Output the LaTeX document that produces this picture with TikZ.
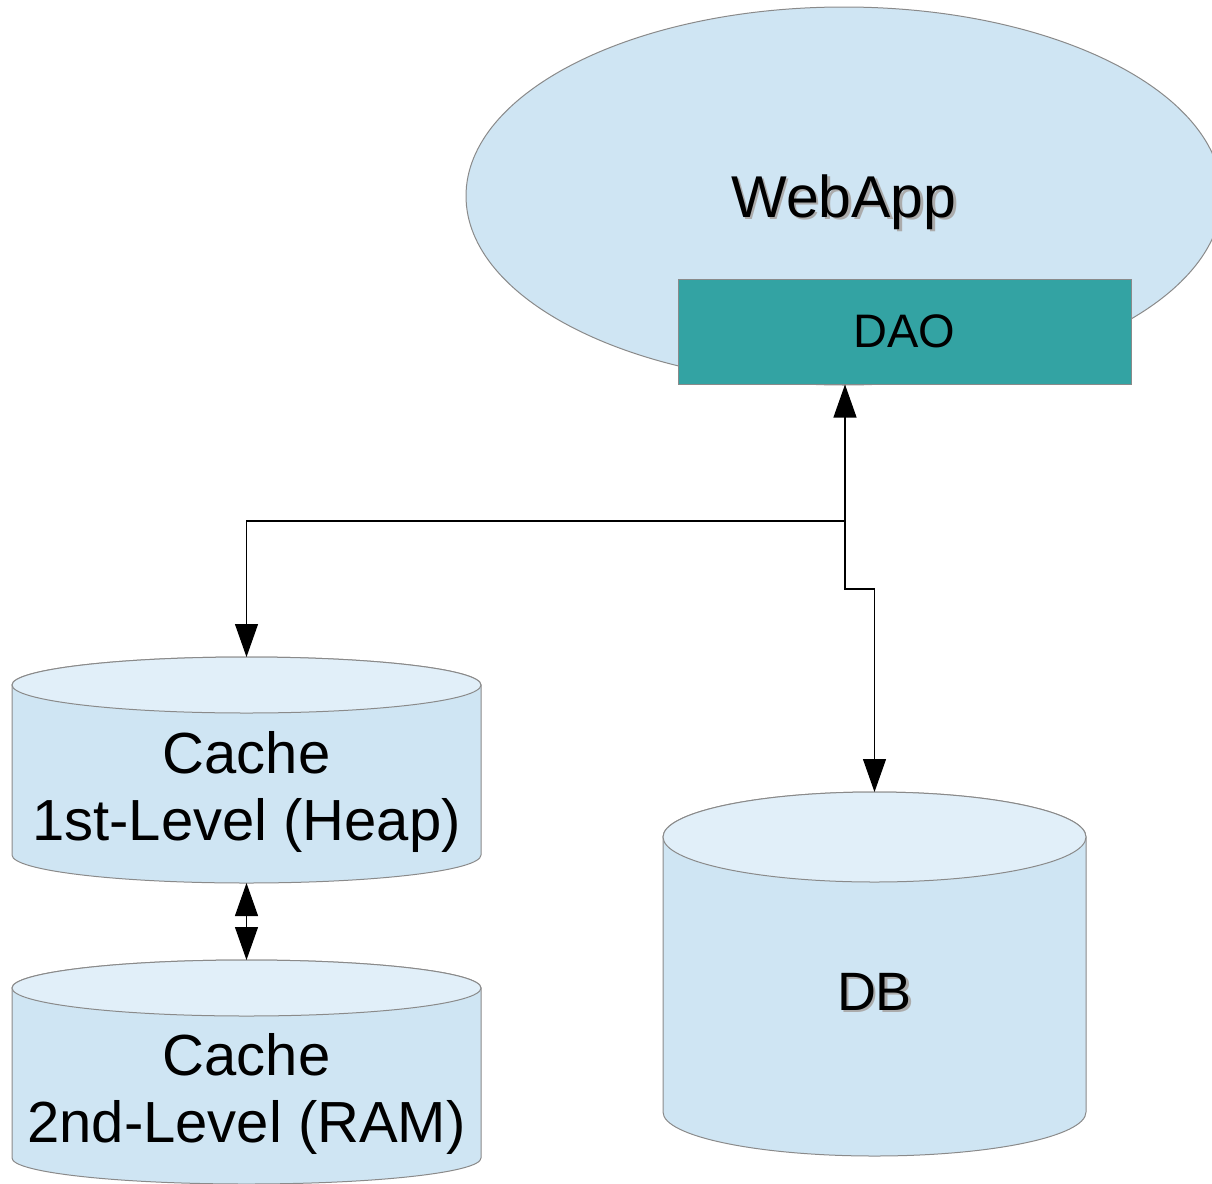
\documentclass[tikz,border=0pt]{standalone}
\usepackage{fontspec}
\setmainfont{Liberation Sans}
\usetikzlibrary{arrows.meta,shapes.geometric}
\definecolor{fillblue}{HTML}{CFE5F3}
\definecolor{topblue}{HTML}{E1EFF9}
\definecolor{edgegray}{HTML}{8A8A8A}
\definecolor{daoteal}{HTML}{33A3A3}
\definecolor{shadowgray}{HTML}{ABABAB}
\begin{document}
\begin{tikzpicture}[x=1pt,y=1pt,
  conn/.style={draw=black, line width=1.1pt},
  bigtip/.tip={Triangle[length=33pt,width=23pt]},
  cylbody/.style={fill=fillblue, draw=edgegray, line width=1pt},
  cyltop/.style={fill=topblue, draw=edgegray, line width=1pt},
  area/.style={inner sep=0pt, outer sep=0pt, draw=none},
  bigtext/.style={font=\fontsize{58}{67}\selectfont, align=center, inner sep=0pt},
  shadowtext/.style={text=shadowgray, inner sep=0pt, anchor=base},
  maintext/.style={text=black, inner sep=0pt, anchor=base}]
\useasboundingbox (0,0) rectangle (1212,-1183);
\clip (0,0) rectangle (1212,-1183);

% WebApp ellipse
\node[ellipse, area, fill=fillblue, draw=edgegray, line width=1pt,
      minimum width=756pt, minimum height=378pt] (webapp) at (844,-196) {};
\node[shadowtext, font=\fontsize{59}{66}\selectfont] (webappshadow) at (846.5,-219.5) {WebApp};
\node[maintext, font=\fontsize{59}{66}\selectfont] (webapptext) at (844,-217) {WebApp};

% DAO
\node[rectangle, fill=daoteal, draw=edgegray, line width=1pt, inner sep=0pt,
      minimum width=453pt, minimum height=105pt,
      font=\fontsize{47}{54}\selectfont] (dao) at (904.5,-331.5) {DAO};

% Cache 1st level
\path[cylbody] (12,-685) -- (12,-855) arc[start angle=180, end angle=360, x radius=234.5, y radius=28]
  -- (481,-685) arc[start angle=0, end angle=180, x radius=234.5, y radius=28] -- cycle;
\path[cyltop] (246.5,-685) ellipse[x radius=234.5, y radius=28];
\node[area, minimum width=469pt, minimum height=226pt] (cache1) at (246.5,-770) {};
\node[bigtext] (cache1text) at (246.5,-791.5) {Cache\\1st-Level (Heap)};

% Cache 2nd level
\path[cylbody] (12,-988) -- (12,-1158) arc[start angle=180, end angle=360, x radius=234.5, y radius=26]
  -- (481,-988) arc[start angle=0, end angle=180, x radius=234.5, y radius=28] -- cycle;
\path[cyltop] (246.5,-988) ellipse[x radius=234.5, y radius=28];
\node[area, minimum width=469pt, minimum height=224pt] (cache2) at (246.5,-1072) {};
\node[bigtext] (cache2text) at (246.5,-1094) {Cache\\2nd-Level (RAM)};

% DB
\path[cylbody] (663,-837) -- (663,-1112) arc[start angle=180, end angle=360, x radius=211.5, y radius=44]
  -- (1086,-837) arc[start angle=0, end angle=180, x radius=211.5, y radius=45] -- cycle;
\path[cyltop] (874.5,-837) ellipse[x radius=211.5, y radius=45];
\node[area, minimum width=423pt, minimum height=364pt] (db) at (874.5,-974) {};
\node[shadowtext, font=\fontsize{54}{60}\selectfont] (dbshadow) at (877,-1012.5) {DB};
\node[maintext, font=\fontsize{54}{60}\selectfont] (dbtext) at (874.5,-1010) {DB};

% connectors
\coordinate (j1) at (845,-521);
\coordinate (j2) at (845,-589);
\draw[conn, bigtip-bigtip] (cache1.north) |- (j1) -- (j1 |- dao.south);
\draw[conn, -bigtip] (j1) -- (j2) -| (db.north);
\draw[conn, bigtip-bigtip] (cache1.south) -- (cache2.north);
\end{tikzpicture}
\end{document}
